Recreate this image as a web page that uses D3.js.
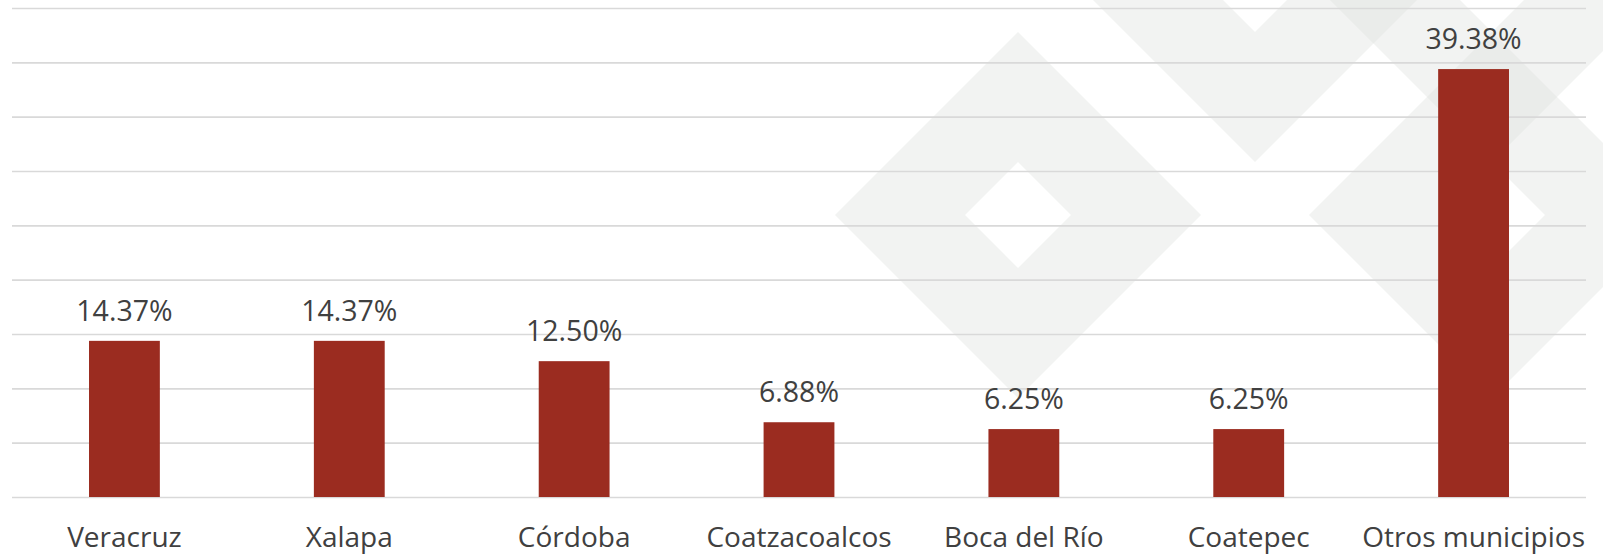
<!DOCTYPE html>
<html>
<head>
<meta charset="utf-8">
<script src="https://cdn.jsdelivr.net/npm/d3@7"></script>
<style>
  body{margin:0;background:#fff;}
  text{font-family:"Open Sans",sans-serif;fill:#404040;}
</style>
</head>
<body>
<script>
var municipios=["Veracruz","Xalapa","Córdoba","Coatzacoalcos","Boca del Río","Coatepec","Otros municipios"]
var porcentajes=[14.37,14.37,12.50,6.88,6.25,6.25,39.38]
var etiquetas=["14.37%","14.37%","12.50%","6.88%","6.25%","6.25%","39.38%"]
var gridTicks=[0,5,10,15,20,25,30,35,40,45]

var screen={width:1603,height:554}
var margins={top:8,right:17,bottom:57,left:12}
var width=screen.width-margins.left-margins.right
var height=screen.height-margins.top-margins.bottom

var svg=d3.select("body").append("svg")
          .attr("width",screen.width)
          .attr("height",screen.height)

// watermark: diamond rings in the background
var rings=[{cx:1018,cy:215},{cx:1255,cy:-21},{cx:1492,cy:215},{cx:1492,cy:-21}]
var diamond=function(cx,cy,r){
  return "M"+cx+","+(cy-r)+"L"+(cx+r)+","+cy+"L"+cx+","+(cy+r)+"L"+(cx-r)+","+cy+"Z"}
svg.append("g").classed("marca",true)
   .selectAll("path")
   .data(rings)
   .enter()
   .append("path")
   .attr("d",function(d){return diamond(d.cx,d.cy,183)+diamond(d.cx,d.cy,53);})
   .attr("fill-rule","evenodd")
   .attr("fill","#dfe2df")
   .attr("opacity",0.4)

var plot=svg.append("g")
            .attr("transform","translate("+margins.left+","+margins.top+")")

var xScale=d3.scaleBand()
             .domain(municipios)
             .range([0,width])
             .paddingInner(0.685)
             .paddingOuter(0.3425)
var yScale=d3.scaleLinear()
             .domain([0,45])
             .range([height,0])

plot.append("g").classed("grid",true)
    .call(d3.axisLeft(yScale).tickValues(gridTicks).tickSize(-width).tickFormat(""))
    .call(function(g){
      g.select(".domain").remove()
      g.selectAll("line").attr("stroke","#d9d9d9").attr("stroke-width",1.6)})

plot.selectAll("rect.bar")
    .data(porcentajes)
    .enter()
    .append("rect")
    .classed("bar",true)
    .attr("x",function(d,i){return xScale(municipios[i]);})
    .attr("y",function(d){return yScale(d);})
    .attr("width",xScale.bandwidth())
    .attr("height",function(d){return height-yScale(d);})
    .attr("fill","#9b2c20")

plot.selectAll("text.valor")
    .data(porcentajes)
    .enter()
    .append("text")
    .classed("valor",true)
    .attr("x",function(d,i){return xScale(municipios[i])+xScale.bandwidth()/2;})
    .attr("y",function(d){return yScale(d)-20;})
    .attr("text-anchor","middle")
    .style("font-size","28.5px")
    .text(function(d,i){return etiquetas[i];})

var xAxis=plot.append("g")
    .attr("transform","translate(0,"+height+")")
    .call(d3.axisBottom(xScale).tickSize(0).tickPadding(0))
xAxis.select(".domain").remove()
xAxis.selectAll("text")
     .attr("dy",null)
     .attr("y",50)
     .style("font-size","28px")
     .style("font-family","'Open Sans',sans-serif")
     .attr("fill","#404040")
</script>
</body>
</html>
